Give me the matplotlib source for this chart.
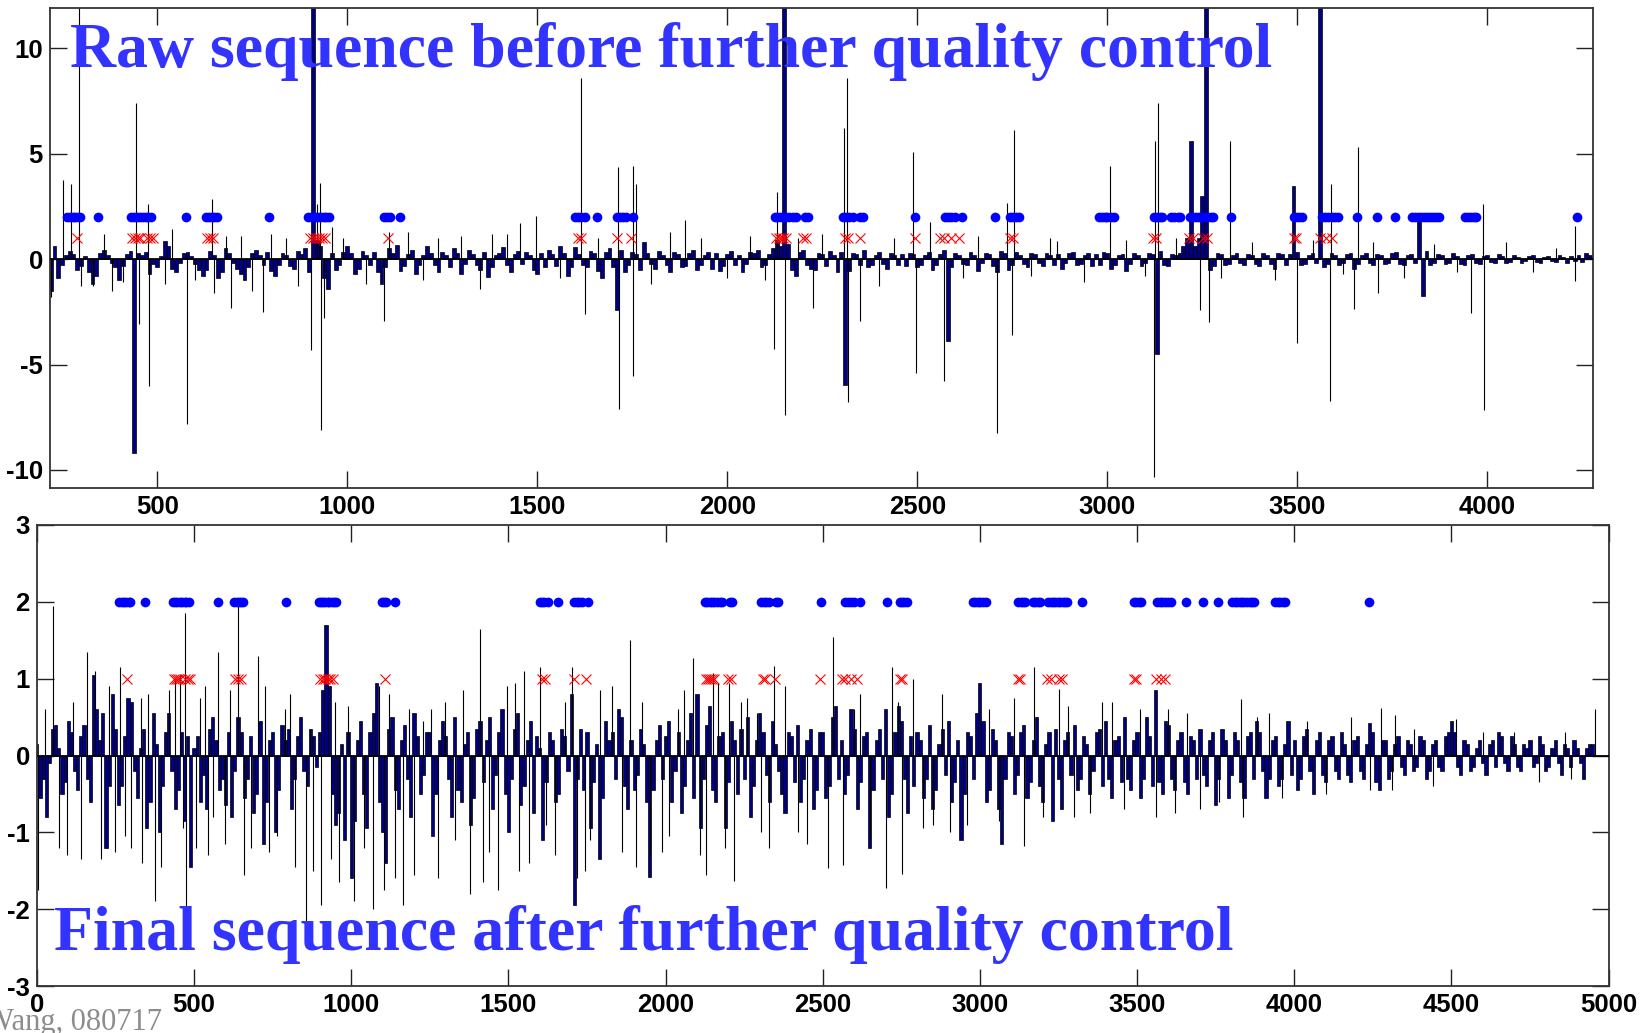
# seq_qc_plot.py
#
# Raw vs. final sequence, with flagged positions marked above the bars.
#

import numpy as np
import matplotlib
matplotlib.use("Agg")
import matplotlib.pyplot as plt

plt.rcParams['font.family'] = ['Liberation Sans', 'DejaVu Sans']
plt.rcParams['axes.unicode_minus'] = False

# ---- raw sequence (top panel) ----
# bar heights every 10 samples starting at sample 220
raw_start = 220
raw_vals = [
    -1.5, 0.6, -0.9, -0.3, 0.2, 0.4, 0.25, -0.5, -0.35, 0.15, -0.6, -1.2, -0.8, 0.3, 0.45, 0.2, -0.2, -0.4, -1.0, -0.35, 0.25, 0.4, -9.2, 0.3, 0.2,
    0.35, -0.7, -0.25, -0.4, 0.15, 0.85, 0.6, -0.45, -0.6, -0.2, 0.3, 0.35, 0.15, -0.25, -0.5, -0.8, -0.5, 0.4, 0.2, -0.9, -0.6, 0.5, 0.3, -0.2, -0.45,
    -0.7, -1.0, -0.4, 0.3, 0.45, 0.2, -0.3, 0.35, -0.55, -0.8, -0.3, 0.3, 0.2, -0.35, -0.45, 0.4, 0.25, 0.5, -0.6, 14.0, 0.9, 0.6, -0.9, -1.4, 0.3,
    -0.5, -0.3, 0.35, 0.6, 0.3, -0.7, -0.45, 0.4, 0.2, -0.3, 0.35, -0.6, -1.2, -0.4, 0.5, 0.3, 0.65, -0.55, -0.35, 0.25, 0.45, -0.7, -0.3, 0.2, 0.6,
    0.3, -0.3, -0.6, 0.35, 0.2, -0.4, 0.5, 0.3, -0.7, -0.25, 0.45, 0.25, -0.3, -0.5, 0.35, -0.85, -0.4, 0.2, 0.3, 0.55, -0.3, -0.6, 0.25, 0.4, -0.25,
    0.35, 0.2, -0.5, -0.7, 0.3, -0.4, 0.45, 0.25, -0.35, 0.6, 0.3, -0.8, -0.4, 0.55, 0.25, -0.3, -0.4, 0.4, 0.3, -0.55, -0.9, 0.35, 0.5, -0.4, -2.4,
    0.45, -0.6, -0.3, 0.35, 0.25, -0.5, 0.8, 0.3, -0.25, -0.45, 0.4, 0.2, -0.3, -0.6, 0.35, 0.25, -0.4, -0.35, 0.3, 0.45, -0.5, -0.3, 0.2, 0.35, -0.45,
    0.3, -0.55, -0.35, 0.25, 0.4, -0.3, 0.2, -0.6, -0.25, 0.35, 0.3, 0.45, -0.4, -0.3, 0.25, 0.5, 0.9, 0.6, 14.0, 0.7, -0.5, -0.8, 0.35, 0.45, -0.3,
    -0.45, -0.5, 0.3, 0.25, -0.35, 0.4, 0.2, -0.6, 0.35, -5.95, -0.55, 0.3, 0.25, -0.3, 0.45, -0.4, -0.3, 0.2, 0.35, -0.25, -0.45, 0.3, 0.2, -0.3, 0.25,
    -0.35, 0.3, 0.25, -0.4, -0.3, 0.2, 0.35, -0.5, -0.3, 0.25, 0.45, -3.9, -0.4, 0.3, 0.2, -0.25, -0.3, 0.35, 0.2, -0.55, -0.2, 0.3, 0.25, -0.35, -0.6,
    0.4, 0.3, -0.5, -0.3, 0.35, 0.2, -0.25, -0.4, 0.3, 0.25, -0.2, -0.35, 0.3, 0.2, -0.3, 0.25, -0.45, -0.2, 0.3, 0.35, -0.3, -0.25, 0.2, 0.3, -0.35,
    0.25, -0.3, 0.35, 0.3, -0.45, -0.3, 0.2, 0.25, -0.55, -0.25, 0.3, 0.2, -0.35, -0.2, 0.3, 0.25, -4.5, 0.4, -0.3, -0.35, 0.25, 0.2, 0.3, 0.6, 1.0,
    5.6, 0.6, 1.0, 2.97, 14.0, -0.5, -0.35, 0.3, 0.25, -0.3, -0.25, 0.2, 0.3, -0.2, -0.3, 0.25, 0.2, -0.25, -0.35, 0.3, 0.2, -0.25, -0.45, 0.3, 0.25,
    -0.3, 0.25, 3.48, 0.35, -0.3, -0.25, 0.2, 0.3, -0.2, 14.0, -0.4, -0.25, 0.3, 0.2, -0.3, -0.2, 0.25, 0.3, -0.45, -0.25, 0.2, 0.3, -0.2, -0.3, 0.25,
    0.2, -0.25, -0.2, 0.3, 0.35, -0.25, -0.3, 0.2, 0.25, -0.2, 2.0, -1.75, 0.4, -0.3, -0.2, 0.25, 0.2, -0.25, -0.2, 0.3, 0.15, -0.25, -0.3, 0.2, 0.25,
    -0.2, -0.25, 0.15, 0.2, -0.15, -0.2, 0.25, 0.15, -0.2, -0.15, 0.2, 0.1, -0.2, -0.1, 0.15, 0.2, -0.15, -0.2, 0.1, 0.15, -0.1, -0.15, 0.2, 0.1, -0.2,
    0.15, -0.1, 0.2, -0.15, 0.3, 0.2,
]

# isolated single-sample spikes in the raw sequence
raw_spike_x = [221, 253, 273, 293, 330, 380, 445, 451, 477, 478, 520, 578, 644, 650, 693, 720, 778, 840,
               906, 920, 928, 930, 938, 960, 1098, 1110, 1240, 1380, 1455, 1498, 1614, 1625, 1713, 1716,
               1752, 1753, 1760, 1890, 1930, 2123, 2132, 2152, 2185, 2225, 2308, 2316, 2318, 2350, 2490,
               2496, 2533, 2570, 2711, 2735, 2748, 2755, 2867, 3007, 3124, 3126, 3133, 3245, 3268, 3322,
               3498, 3586, 3588, 3650, 3659, 3713, 3957, 3988, 3990, 4230, 4231,
               300, 360, 410, 540, 600, 680, 750, 800, 870, 990, 1050, 1160, 1200, 1300, 1350, 1420,
               1560, 1660, 1800, 1850, 2000, 2060, 2100, 2250, 2400, 2440, 2620, 2660, 2800, 2850, 2940,
               3050, 3100, 3180, 3300, 3380, 3440, 3540, 3620, 3700, 3780, 3860, 3920, 4050, 4120, 4180]
raw_spike_y = [-1.8, 3.76, 3.57, 13.0, -1.3, -1.5, 7.4, -3.1, 2.6, -6.0, -1.2, -7.8, 2.84, -1.6, -2.3, 1.1, -2.5, 1.0,
               -4.3, 2.6, 3.6, -8.1, -2.8, 1.5, -2.95, 1.3, 1.0, 1.2, 1.7, 2.05, 8.6, -2.6, 4.36, -7.1,
               4.4, -5.55, 3.57, 1.86, 1.0, -4.27, 3.16, -7.4, 1.0, -2.3, 6.2, 8.6, -6.8, -2.95, 5.07,
               -5.4, 1.75, -5.8, -8.25, 2.65, -3.6, 6.13, 0.87, 4.4, -10.35, 5.6, 7.4, -2.4, -3.0, 5.58,
               -4.0, -6.75, 3.57, -2.37, 5.3, -1.6, -2.56, 2.6, -7.17, 1.58, -1.06,
               -1.3, 1.2, -1.1, 1.4, -1.0, 1.1, -1.5, 1.2, -1.3, 1.0, -1.2, 1.3, -1.0, 1.1, -1.4, 1.2,
               -0.9, 1.0, -1.2, 1.3, -0.9, 1.1, -1.0, 1.2, -1.3, 1.0, -0.9, 1.1, -0.8, 1.0, -1.1,
               0.9, -0.8, 1.0, -0.9, 0.8, -1.0, 0.9, -0.7, 0.8, -0.9, 0.7, -0.6, 0.8, -0.6, 0.5]

# ---- final sequence (bottom panel) ----
final_start = 0
final_vals = [
    0.15, -0.55, -0.3, -0.8, -0.1, 0.35, 0.4, 0.1, -0.5, -0.35, 0.45, 0.3, -0.2, -0.45, 0.25, 0.4, -0.3, -0.6, 1.05, 0.6, 0.2, 0.55, -1.2, -0.4, 0.8,
    0.35, -0.65, -0.4, 0.25, 0.75, 0.7, -0.2, -0.55, 0.1, 0.35, -0.95, -0.6, 0.55, 0.15, -1.0, -0.4, 0.3, 0.55, -0.2, -0.7, -0.45, 0.3, -0.85, 0.25, -1.45,
    0.1, 0.25, -0.6, -0.25, -0.7, 0.35, 0.5, 0.2, -0.45, -0.3, -0.65, 0.3, -0.8, -0.2, 0.5, 0.3, -0.55, -0.3, 0.25, -0.75, -0.5, 0.45, -1.15, -0.6, 0.2,
    0.3, -1.0, -0.45, 0.4, 0.2, 0.35, -0.7, -0.3, 0.25, 0.5, -0.2, -0.4, 0.35, 0.25, -0.15, 0.3, 0.85, 1.7, 0.9, -0.5, -0.9, -0.75, 0.15, -1.1, 0.3,
    -1.6, -0.85, 0.2, 0.45, -0.5, -0.95, 0.3, 0.55, 0.95, -0.6, -1.0, -1.4, 0.35, 0.5, -0.45, -0.7, 0.2, 0.4, -0.3, -0.8, 0.55, 0.25, -0.5, -0.25, 0.3,
    0.3, -1.05, -0.5, 0.2, 0.45, 0.25, -0.3, -0.8, 0.5, -0.45, -0.6, 0.15, 0.3, -0.9, -0.55, 0.35, 0.45, -0.35, 0.2, 0.5, -0.7, -0.25, 0.3, 0.6, -0.5,
    -1.0, -0.3, 0.35, 0.55, -0.65, -0.4, 0.2, 0.45, -0.75, 0.25, 0.1, -1.1, -0.35, 0.3, 0.2, -0.6, -0.5, 0.35, 0.25, -0.2, 0.8, -1.95, -0.3, 0.35, -0.45,
    0.3, -0.95, -0.35, 0.15, -1.35, -0.55, 0.45, 0.2, 0.3, -0.3, 0.6, 0.5, -0.4, -0.7, 0.2, -0.45, -0.25, 0.35, 0.15, -0.6, -1.58, -0.45, 0.2, 0.4, -0.3,
    0.25, 0.45, -0.6, -0.2, 0.3, -0.75, -0.4, 0.2, 0.55, -0.55, 0.8, -0.95, -0.3, 0.4, 0.65, -0.45, -0.6, 0.25, 0.3, -0.95, -0.35, 0.45, 0.2, -0.5, 0.35,
    -0.3, 0.5, -0.8, -0.4, 0.2, 0.55, 0.3, -0.25, -0.6, 0.45, 0.15, -0.2, -0.5, -0.75, 0.3, 0.25, -0.35, 0.4, -0.6, -0.3, 0.2, 0.35, -0.7, -0.45, 0.3,
    0.3, -0.55, -0.4, 0.5, 0.65, -0.3, 0.2, -0.5, -0.25, 0.6, 0.35, -0.7, -0.35, 0.25, 0.3, -1.2, -0.45, 0.2, 0.35, -0.3, 0.6, -0.8, -0.5, 0.3, 0.65,
    0.45, -0.3, -0.75, 0.25, -0.4, 0.3, 0.2, -0.55, -0.3, 0.4, -0.7, -0.45, 0.15, 0.35, -0.25, 0.45, -0.6, -0.35, 0.2, -1.1, -0.5, 0.3, 0.25, -0.3, 0.55,
    0.95, 0.45, -0.6, -0.45, 0.35, 0.2, -0.7, -1.15, -0.3, 0.3, 0.25, -0.5, -0.25, 0.3, 0.4, -0.55, -0.35, 0.2, 0.5, -0.4, -0.6, 0.15, 0.3, -0.85, 0.35,
    -0.3, -0.7, 0.2, 0.3, -0.25, 0.4, -0.45, -0.3, 0.25, 0.15, -0.5, -0.2, 0.3, 0.35, -0.4, 0.45, -0.3, -0.55, 0.2, 0.25, -0.35, 0.5, -0.3, -0.45, 0.2,
    0.3, -0.55, -0.3, 0.5, 0.25, -0.4, 0.85, -0.35, -0.5, 0.45, 0.4, -0.3, -0.45, 0.2, 0.3, -0.35, -0.5, 0.25, 0.2, -0.3, 0.35, -0.25, -0.4, 0.2, 0.3,
    -0.65, -0.3, 0.35, 0.2, -0.55, -0.25, 0.3, 0.2, -0.35, -0.55, 0.25, 0.3, -0.3, 0.45, 0.3, -0.2, -0.55, -0.3, 0.2, 0.25, -0.4, -0.3, 0.15, 0.45, -0.25,
    0.2, -0.45, -0.3, 0.25, 0.35, -0.2, -0.5, 0.2, 0.3, -0.25, -0.35, 0.2, 0.25, -0.2, -0.3, 0.3, 0.15, -0.25, -0.35, 0.2, 0.25, -0.2, -0.3, 0.15, 0.42,
    0.3, -0.35, -0.45, 0.2, 0.2, -0.3, -0.2, 0.15, 0.25, -0.15, -0.25, 0.2, 0.15, -0.2, -0.15, 0.25, 0.2, -0.3, -0.2, 0.15, 0.2, -0.15, -0.2, 0.25, 0.3,
    0.45, 0.3, -0.15, -0.25, 0.2, 0.15, -0.2, -0.15, 0.1, 0.2, -0.1, -0.25, 0.15, 0.2, -0.15, 0.3, 0.25, -0.1, -0.2, 0.25, 0.15, -0.15, -0.2, 0.15, 0.1,
    0.2, -0.15, -0.1, 0.25, 0.15, -0.2, -0.15, 0.1, 0.2, -0.1, -0.25, 0.15, 0.1, -0.15, 0.2, 0.1, -0.1, -0.3, 0.1, 0.15, 0.15,
]

final_spike_x = [5, 50, 95, 160, 185, 205, 250, 280, 330, 335, 375, 420, 455, 465, 472, 476, 505, 535, 560,
                 575, 600, 640, 660, 705, 740, 790, 820, 856, 870, 905, 935, 960, 990, 1010, 1070, 1090,
                 1105, 1140, 1165, 1185, 1230, 1275, 1300, 1378, 1410, 1420, 1467, 1495, 1535, 1550, 1565,
                 1600, 1650, 1702, 1720, 1745, 1790, 1887, 1905, 1950, 1990, 2040, 2088, 2110, 2128, 2150,
                 2168, 2202, 2219, 2240, 2290, 2330, 2344, 2420, 2516, 2534, 2566, 2600, 2702, 2719, 2753,
                 2787, 2850, 2905, 3139, 3173, 3253, 3300, 3420, 3560, 3600, 3700, 3832, 3836, 3920,
                 4277, 4310, 4320, 4515, 4700, 4880, 4958,
                 25, 70, 115, 140, 230, 265, 300, 355, 395, 440, 520, 545, 615, 680, 725, 765, 805, 880,
                 950, 1040, 1120, 1200, 1255, 1330, 1355, 1440, 1520, 1620, 1680, 1760, 1830, 1860, 1925,
                 2010, 2060, 2190, 2260, 2305, 2380, 2450, 2620, 2650, 2740, 2820, 2880, 2960, 3030, 3060,
                 3110, 3200, 3280, 3350, 3390, 3460, 3510, 3620, 3660, 3760, 3880, 3960, 4040, 4100, 4180,
                 4240, 4380, 4440, 4600, 4780, 4860]
final_spike_y = [-1.75, 1.95, -1.3, 1.35, 1.1, -1.35, -1.25, -1.05, 0.75, -1.4, -1.9, 0.85, 1.05, -0.95, 1.85, -2.2,
                 -1.2, 0.9, -0.8, 1.35, -1.15, 2.0, -1.55, 1.3, -1.25, 0.6, -1.45, -2.25, 0.35, -1.95, -1.35,
                 -1.65, 0.65, -1.9, -2.0, 0.9, -1.75, -1.6, -1.95, 0.6, 0.45, -1.6, 0.7, -1.8, 1.65, -1.65,
                 -1.75, 0.9, -1.5, 1.1, -1.4, 1.15, -1.3, 1.15, -1.6, -1.5, 0.85, 1.5, -1.45, -1.3, -1.25,
                 0.6, 1.27, -1.3, -1.55, 1.07, 0.94, 0.94, -1.63, 0.7, 0.55, -1.2, 1.17, -1.0, -1.46, 1.54,
                 -1.42, 0.6, -1.73, 1.15, -1.54, 1.0, -0.9, -1.0, -1.18, 1.15, 0.87, -0.8, 0.7, -0.8, 0.6,
                 -0.7, 0.73, -0.8, 0.55, 0.62, -0.45, 0.53, 0.47, 0.3, -0.3, 0.6,
                 0.6, -1.2, 0.7, -1.35, 0.9, 1.15, -1.2, 0.8, -1.45, 1.0, 0.75, -1.3, 0.85, -1.2, 0.9, -1.05, 0.8, -1.5,
                 0.7, -1.2, 0.8, -1.55, 0.6, -1.1, 0.85, -1.25, 0.95, -0.9, 0.7, -1.1, 0.9, -1.25, 0.7,
                 -1.05, 0.85, -1.2, 0.75, -1.0, 0.9, -1.15, 0.8, -1.1, 0.7, -0.95, 0.8, -0.9, 0.6, -0.85,
                 0.75, -0.8, 0.65, -0.75, 0.7, -0.7, 0.6, -0.75, 0.55, -0.6, 0.5, -0.55, 0.45, -0.5, 0.5,
                 -0.45, 0.35, -0.4, 0.3, -0.35, 0.3]

# flagged positions, shared by both panels
dot_x = [262, 270, 278, 285, 292, 298, 345, 432, 440, 447, 455, 462, 470, 476, 483, 576,
         628, 636, 643, 650, 657, 794, 898, 905, 912, 918, 925, 931, 938, 945, 951,
         1098, 1105, 1112, 1138, 1600, 1608, 1615, 1625, 1658, 1710, 1718, 1725, 1733, 1752,
         2125, 2132, 2140, 2147, 2155, 2163, 2172, 2180, 2205, 2212, 2305, 2312, 2320, 2330, 2350, 2357,
         2495, 2572, 2580, 2590, 2598, 2618, 2705, 2745, 2752, 2760, 2767,
         2978, 2985, 2993, 3000, 3010, 3018, 3122, 3130, 3138, 3145, 3168, 3176, 3186, 3192,
         3218, 3225, 3233, 3240, 3248, 3256, 3264, 3272, 3278, 3325,
         3490, 3497, 3505, 3513, 3565, 3572, 3580, 3590, 3600, 3608, 3657, 3710, 3756,
         3803, 3810, 3818, 3826, 3833, 3841, 3850, 3858, 3866, 3873,
         3940, 3948, 3956, 3964, 3971, 4237]
cross_x = [288, 435, 442, 450, 456, 472, 480, 488, 632, 640, 648, 902, 910, 918, 926, 934, 942, 1108,
           1608, 1616, 1710, 1748, 2128, 2135, 2142, 2148, 2155, 2200, 2207, 2310, 2318, 2348, 2493,
           2560, 2570, 2590, 2610, 2745, 2752, 3120, 3128, 3215, 3225, 3252, 3262,
           3490, 3497, 3560, 3575, 3590]

NAVY = '#000080'
TITLE_BLUE = '#3333ff'
W, H = 1650, 1033


def draw_panel(ax, start, vals, spike_x, spike_y) :
    """ Bars every 10 samples, single-sample spikes and the flag markers. """
    x = start + 10 * np.arange(len(vals))
    ax.bar(x, vals, width=10, color=NAVY, edgecolor='black', linewidth=0.5, zorder=2)
    ax.vlines(spike_x, 0, spike_y, colors='black', linewidth=0.8, zorder=2)
    ax.axhline(0, color='black', linewidth=1.3, zorder=3)
    ax.plot(dot_x, [2] * len(dot_x), 'o', color='blue', markersize=7, markeredgewidth=0, zorder=4)
    ax.plot(cross_x, [1] * len(cross_x), 'x', color='red', markersize=7, markeredgewidth=0.8, zorder=4)


def style_axes(ax, xticks, yticks) :
    ax.set_xticks(xticks)
    ax.set_yticks(yticks)
    ax.tick_params(direction='in', length=12, width=1.0, top=True, right=True,
                   labelsize=18.5, colors='#222222', labelcolor='black', pad=5)
    for lbl in ax.get_xticklabels() + ax.get_yticklabels() :
        lbl.set_fontweight('bold')
    for sp in ax.spines.values() :
        sp.set_linewidth(1.3)
        sp.set_color('#333333')


fig = plt.figure(figsize=(W / 100, H / 100), dpi=100)

ax1 = fig.add_axes([50 / W, 1 - 487.7 / H, (1593 - 50) / W, (487.7 - 8) / H])
draw_panel(ax1, raw_start, raw_vals, raw_spike_x, raw_spike_y)
ax1.set_xlim(218, 4278)
ax1.set_ylim(-10.84, 11.9)
style_axes(ax1, [500, 1000, 1500, 2000, 2500, 3000, 3500, 4000], [-10, -5, 0, 5, 10])

ax2 = fig.add_axes([36.8 / W, 1 - 986 / H, (1608.6 - 36.8) / W, (986 - 525) / H])
draw_panel(ax2, final_start, final_vals, final_spike_x, final_spike_y)
ax2.set_xlim(0, 5000)
ax2.set_ylim(-3, 3)
style_axes(ax2, [0, 500, 1000, 1500, 2000, 2500, 3000, 3500, 4000, 4500, 5000], [-3, -2, -1, 0, 1, 2, 3])

t1 = fig.text(70 / W, 1 - 67 / H, "Raw sequence before further quality control",
              family=['Liberation Serif', 'DejaVu Serif'], fontweight='bold', fontsize=47,
              color=TITLE_BLUE, ha='left', va='baseline')
t2 = fig.text(54 / W, 1 - 950 / H, "Final sequence after further quality control",
              family=['Liberation Serif', 'DejaVu Serif'], fontweight='bold', fontsize=47,
              color=TITLE_BLUE, ha='left', va='baseline')
fig.text(162 / W, 1 - 1030 / H, "Wang, 080717", family=['Liberation Serif', 'DejaVu Serif'],
         fontsize=22, color='#8c8c8c', ha='right', va='baseline')

# scale the two headings to their set widths
fig.canvas.draw()
rend = fig.canvas.get_renderer()
for txt, width in ((t1, 1203), (t2, 1180)) :
    w = txt.get_window_extent(rend).width
    txt.set_fontsize(txt.get_fontsize() * width / w)

fig.savefig("out.png", dpi=100)
